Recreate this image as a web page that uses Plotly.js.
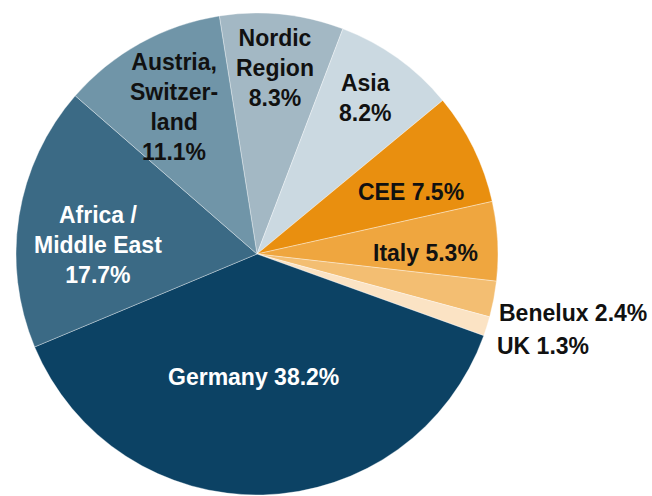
<!DOCTYPE html>
<html>
<head>
<meta charset="utf-8">
<script src="https://cdn.plot.ly/plotly-3.0.1.min.js"></script>
<style>html,body{margin:0;padding:0;background:#fff;}#chart{width:652px;height:496px;}</style>
</head>
<body>
<div id="chart"></div>
<script>
// Clockwise order starting from the top
const regions = ["Nordic Region", "Asia", "CEE", "Italy", "Benelux", "UK", "Germany", "Africa / Middle East", "Austria, Switzerland"];
const shares = [8.3, 8.2, 7.5, 5.3, 2.4, 1.3, 38.2, 17.7, 11.1];
const labelLines = [
  ["Nordic", "Region"],
  ["Asia"],
  ["CEE"],
  ["Italy"],
  ["Benelux"],
  ["UK"],
  ["Germany"],
  ["Africa /", "Middle East"],
  ["Austria,", "Switzer-", "land"]
];
const sliceColors = ["#a3b8c4", "#cbd9e1", "#e98f0f", "#efa63f", "#f3be72", "#fbe3c4", "#0c4264", "#3b6a85", "#7095a8"];

// label styling/placement (paper coords)
const labelStyle = [
  {x: 275, y: 68, inline: false, color: "#111111"},
  {x: 365, y: 98, inline: false, color: "#111111"},
  {x: 411, y: 192, inline: true, color: "#111111"},
  {x: 425, y: 253, inline: true, color: "#111111"},
  {x: 497, y: 313, inline: true, color: "#111111", left: true},
  {x: 495, y: 346, inline: true, color: "#111111", left: true},
  {x: 253, y: 377, inline: true, color: "#ffffff"},
  {x: 98, y: 245, inline: false, color: "#ffffff"},
  {x: 174, y: 107, inline: false, color: "#111111"}
];

const W = 652, H = 496;
const annotations = regions.map((r, i) => {
  const pct = shares[i].toFixed(1) + "%";
  const txt = labelStyle[i].inline ? labelLines[i].join(" ") + " " + pct : labelLines[i].concat([pct]).join("<br>");
  return {
    text: txt,
    x: labelStyle[i].x / W, y: 1 - labelStyle[i].y / H,
    xref: "paper", yref: "paper",
    xanchor: labelStyle[i].left ? "left" : "center", yanchor: "middle",
    showarrow: false,
    align: labelStyle[i].left ? "left" : "center",
    font: {family: "Liberation Sans, Arial, sans-serif", size: 23, color: labelStyle[i].color, weight: "bold"}
  };
});

const trace = {
  type: "pie",
  labels: regions,
  values: shares,
  sort: false,
  direction: "clockwise",
  rotation: -9,
  textinfo: "none",
  hoverinfo: "label+percent",
  marker: {colors: sliceColors, line: {color: "rgba(255,255,255,0.35)", width: 1}},
  domain: {x: [16 / W, 498 / W], y: [1 / H, 483 / H]},
  showlegend: false
};

Plotly.newPlot("chart", [trace], {
  width: W, height: H,
  margin: {l: 0, r: 0, t: 0, b: 0},
  paper_bgcolor: "#ffffff",
  showlegend: false,
  annotations: annotations
}, {displayModeBar: false, staticPlot: true});
</script>
</body>
</html>
